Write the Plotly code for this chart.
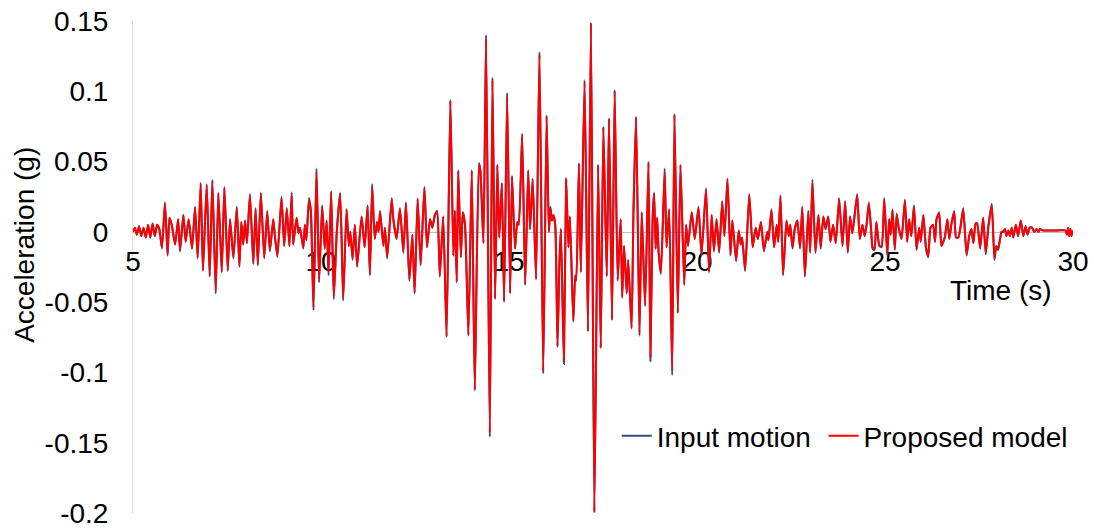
import plotly.graph_objects as go

time_s = [
    5.00, 5.05, 5.10, 5.16, 5.22, 5.28, 5.34, 5.40, 5.46, 5.52,
    5.58, 5.64, 5.70, 5.77, 5.85, 5.92, 5.97, 6.03, 6.12, 6.20,
    6.25, 6.34, 6.40, 6.48, 6.57, 6.65, 6.72, 6.80, 6.86, 6.96,
    7.04, 7.11, 7.20, 7.27, 7.36, 7.43, 7.52, 7.58, 7.67, 7.76,
    7.83, 7.88, 7.93, 7.98, 8.03, 8.11, 8.20, 8.26, 8.32, 8.40,
    8.49, 8.57, 8.64, 8.73, 8.77, 8.84, 8.95, 9.02, 9.09, 9.16,
    9.22, 9.26, 9.35, 9.40, 9.44, 9.53, 9.57, 9.61, 9.68, 9.73,
    9.80, 9.88, 9.95, 10.03, 10.10, 10.15, 10.20, 10.27, 10.34, 10.42,
    10.51, 10.59, 10.68, 10.74, 10.78, 10.84, 10.90, 10.96, 11.08, 11.16,
    11.24, 11.30, 11.36, 11.43, 11.49, 11.53, 11.57, 11.66, 11.70, 11.76,
    11.88, 11.92, 12.01, 12.10, 12.19, 12.26, 12.35, 12.43, 12.49, 12.57,
    12.65, 12.75, 12.82, 12.90, 12.96, 13.03, 13.09, 13.16, 13.25, 13.34,
    13.44, 13.52, 13.56, 13.61, 13.65, 13.72, 13.77, 13.83, 13.92, 14.01,
    14.09, 14.20, 14.24, 14.32, 14.39, 14.49, 14.56, 14.63, 14.69, 14.74,
    14.81, 14.87, 14.95, 15.03, 15.08, 15.16, 15.22, 15.26, 15.35, 15.43,
    15.51, 15.56, 15.63, 15.72, 15.81, 15.91, 16.00, 16.06, 16.10, 16.14,
    16.18, 16.23, 16.29, 16.34, 16.38, 16.46, 16.52, 16.58, 16.62, 16.71,
    16.76, 16.79, 16.86, 16.91, 17.01, 17.10, 17.18, 17.27, 17.37, 17.44,
    17.51, 17.60, 17.66, 17.74, 17.81, 17.89, 17.97, 18.01, 18.06, 18.13,
    18.17, 18.26, 18.31, 18.38, 18.47, 18.53, 18.62, 18.71, 18.76, 18.82,
    18.86, 18.90, 18.94, 18.98, 19.04, 19.14, 19.19, 19.26, 19.34, 19.40,
    19.49, 19.56, 19.66, 19.71, 19.76, 19.86, 19.94, 20.04, 20.12, 20.24,
    20.32, 20.39, 20.45, 20.52, 20.59, 20.67, 20.73, 20.81, 20.89, 20.94,
    21.04, 21.11, 21.16, 21.20, 21.28, 21.39, 21.48, 21.56, 21.62, 21.70,
    21.78, 21.87, 21.90, 21.98, 22.05, 22.12, 22.16, 22.22, 22.29, 22.38,
    22.44, 22.48, 22.54, 22.60, 22.67, 22.74, 22.80, 22.87, 22.96, 23.01,
    23.07, 23.15, 23.23, 23.29, 23.36, 23.42, 23.49, 23.55, 23.62, 23.69,
    23.78, 23.87, 23.94, 24.01, 24.07, 24.13, 24.18, 24.26, 24.33, 24.40,
    24.46, 24.51, 24.57, 24.63, 24.67, 24.72, 24.77, 24.85, 24.91, 24.98,
    25.06, 25.11, 25.15, 25.20, 25.26, 25.31, 25.37, 25.44, 25.53, 25.59,
    25.64, 25.70, 25.77, 25.84, 25.91, 25.95, 26.02, 26.09, 26.15, 26.21,
    26.28, 26.33, 26.37, 26.44, 26.50, 26.59, 26.66, 26.71, 26.77, 26.84,
    26.89, 26.95, 27.00, 27.08, 27.17, 27.24, 27.30, 27.35, 27.41, 27.45,
    27.53, 27.61, 27.68, 27.75, 27.84, 27.91, 27.96, 28.01, 28.06, 28.10,
    28.14, 28.19, 28.23, 28.28, 28.32, 28.37, 28.41, 28.48, 28.54, 28.61,
    28.68, 28.74, 28.79, 28.85, 28.91, 28.97, 29.03, 29.08, 29.12, 29.20,
    29.40, 29.60, 29.80, 29.84, 29.87, 29.90, 29.93, 29.96, 30.00,
]

input_motion = [
    0.000, 0.003, -0.002, 0.004, -0.003, 0.003, -0.004, 0.005, -0.004, 0.006,
    -0.003, 0.005, 0.002, -0.012, 0.021, -0.017, 0.010, 0.005, -0.009, 0.009,
    -0.014, 0.012, -0.007, 0.009, -0.012, 0.018, -0.019, 0.035, -0.028, 0.034,
    -0.032, 0.037, -0.044, 0.028, -0.029, 0.032, -0.028, 0.009, -0.019, 0.018,
    -0.025, 0.007, -0.009, 0.008, -0.008, 0.027, -0.023, 0.017, -0.024, 0.028,
    -0.019, 0.015, -0.014, 0.009, -0.002, -0.018, 0.025, -0.010, 0.017, -0.010,
    0.028, -0.009, 0.010, -0.001, 0.003, -0.012, 0.005, -0.006, 0.024, 0.015,
    -0.056, 0.045, -0.036, 0.019, -0.012, 0.008, -0.031, 0.029, -0.048, 0.000,
    0.028, -0.049, 0.016, -0.010, 0.000, -0.020, 0.005, -0.025, 0.011, -0.011,
    0.019, -0.031, 0.034, -0.005, 0.007, 0.000, 0.015, -0.010, 0.003, -0.019,
    0.024, 0.010, -0.005, 0.017, -0.015, 0.021, -0.035, -0.002, -0.044, 0.024,
    -0.024, 0.032, -0.011, 0.009, 0.003, 0.012, 0.015, -0.032, 0.011, -0.075,
    0.094, -0.017, 0.015, -0.036, 0.044, -0.018, 0.014, 0.005, -0.074, 0.044,
    -0.113, 0.049, 0.044, -0.008, 0.140, -0.146, 0.110, -0.048, 0.048, -0.004,
    0.035, -0.050, 0.099, -0.044, 0.040, -0.012, 0.007, 0.005, 0.070, -0.038,
    0.044, 0.002, 0.038, -0.034, 0.128, -0.101, 0.083, 0.000, 0.018, 0.008,
    0.012, 0.005, -0.082, -0.023, 0.002, -0.094, 0.038, -0.011, 0.011, -0.064,
    -0.031, -0.035, 0.049, -0.029, 0.108, -0.071, 0.149, -0.200, 0.048, -0.083,
    0.075, -0.032, 0.081, -0.063, 0.101, -0.035, 0.009, -0.047, -0.010, -0.044,
    -0.020, -0.069, 0.014, 0.082, -0.074, 0.014, -0.053, 0.050, -0.092, 0.010,
    0.028, -0.012, 0.010, -0.015, -0.030, 0.045, -0.011, 0.016, -0.102, 0.084,
    -0.058, 0.048, -0.038, 0.005, -0.010, 0.014, -0.005, 0.018, -0.017, 0.031,
    -0.029, 0.012, -0.014, 0.009, -0.015, 0.022, -0.003, 0.038, -0.017, 0.008,
    -0.021, 0.001, -0.009, -0.004, -0.028, 0.027, -0.011, 0.003, -0.005, 0.007,
    -0.014, 0.000, -0.006, 0.016, -0.011, 0.005, -0.007, 0.026, -0.031, 0.008,
    -0.003, 0.005, -0.012, 0.002, 0.008, -0.012, 0.018, -0.032, 0.015, -0.015,
    0.037, -0.015, 0.012, -0.012, 0.011, 0.002, 0.011, -0.007, 0.005, -0.008,
    0.024, -0.010, 0.022, -0.015, 0.011, -0.001, 0.009, 0.027, -0.005, 0.005,
    -0.003, 0.005, 0.021, 0.002, -0.012, -0.013, 0.007, -0.010, -0.011, 0.024,
    -0.017, 0.009, -0.002, 0.016, -0.013, 0.013, 0.002, -0.005, 0.023, -0.007,
    0.009, -0.003, 0.019, -0.013, 0.003, -0.007, 0.012, -0.012, -0.018, 0.003,
    0.005, -0.007, 0.009, 0.014, -0.010, -0.004, 0.009, -0.005, 0.006, 0.015,
    -0.004, -0.004, 0.002, 0.017, -0.017, -0.003, 0.002, -0.008, 0.006, 0.006,
    -0.012, 0.010, -0.016, 0.004, 0.020, -0.020, -0.010, -0.013, -0.005, 0.000,
    0.000, 0.002, -0.003, 0.001, -0.003, 0.003, -0.004, 0.005, -0.003, 0.008,
    -0.003, 0.004, -0.002, 0.003, 0.003, 0.000, 0.002, 0.000, 0.002, 0.001,
    0.001, 0.001, 0.001, -0.002, 0.003, -0.003, 0.002, -0.003, 0.001,
]

proposed_model = [
    0.000, 0.003, -0.002, 0.004, -0.003, 0.003, -0.004, 0.005, -0.004, 0.006,
    -0.003, 0.005, 0.002, -0.011, 0.020, -0.016, 0.010, 0.005, -0.009, 0.009,
    -0.013, 0.012, -0.007, 0.009, -0.012, 0.017, -0.018, 0.034, -0.027, 0.033,
    -0.031, 0.036, -0.042, 0.027, -0.028, 0.031, -0.027, 0.009, -0.018, 0.017,
    -0.024, 0.007, -0.009, 0.008, -0.008, 0.026, -0.022, 0.016, -0.023, 0.027,
    -0.018, 0.014, -0.013, 0.009, -0.002, -0.017, 0.024, -0.010, 0.016, -0.010,
    0.026, -0.009, 0.010, -0.001, 0.003, -0.011, 0.005, -0.006, 0.022, 0.015,
    -0.054, 0.043, -0.034, 0.018, -0.012, 0.008, -0.029, 0.028, -0.046, 0.000,
    0.027, -0.047, 0.016, -0.010, 0.000, -0.019, 0.005, -0.024, 0.011, -0.011,
    0.018, -0.030, 0.032, -0.005, 0.007, 0.000, 0.014, -0.010, 0.003, -0.018,
    0.023, 0.010, -0.005, 0.016, -0.014, 0.020, -0.034, -0.002, -0.043, 0.023,
    -0.023, 0.031, -0.011, 0.009, 0.003, 0.012, 0.014, -0.031, 0.011, -0.074,
    0.093, -0.017, 0.015, -0.035, 0.043, -0.018, 0.014, 0.005, -0.073, 0.043,
    -0.112, 0.048, 0.043, -0.008, 0.137, -0.143, 0.108, -0.047, 0.047, -0.004,
    0.034, -0.049, 0.096, -0.043, 0.039, -0.012, 0.007, 0.005, 0.068, -0.037,
    0.043, 0.002, 0.037, -0.033, 0.126, -0.099, 0.082, 0.000, 0.017, 0.008,
    0.012, 0.005, -0.081, -0.023, 0.002, -0.092, 0.037, -0.011, 0.011, -0.063,
    -0.031, -0.034, 0.048, -0.028, 0.106, -0.070, 0.148, -0.199, 0.047, -0.082,
    0.074, -0.031, 0.080, -0.062, 0.100, -0.034, 0.009, -0.046, -0.010, -0.043,
    -0.020, -0.068, 0.014, 0.081, -0.072, 0.014, -0.052, 0.049, -0.089, 0.010,
    0.027, -0.012, 0.010, -0.014, -0.029, 0.043, -0.011, 0.016, -0.099, 0.083,
    -0.057, 0.047, -0.037, 0.005, -0.010, 0.014, -0.005, 0.017, -0.016, 0.030,
    -0.028, 0.012, -0.013, 0.009, -0.014, 0.021, -0.003, 0.037, -0.016, 0.008,
    -0.020, 0.001, -0.009, -0.004, -0.027, 0.026, -0.011, 0.003, -0.005, 0.007,
    -0.013, 0.000, -0.006, 0.015, -0.011, 0.005, -0.007, 0.025, -0.030, 0.008,
    -0.003, 0.005, -0.011, 0.002, 0.008, -0.011, 0.017, -0.031, 0.014, -0.014,
    0.035, -0.014, 0.012, -0.011, 0.011, 0.002, 0.011, -0.007, 0.005, -0.008,
    0.023, -0.010, 0.021, -0.014, 0.011, -0.001, 0.009, 0.026, -0.005, 0.005,
    -0.003, 0.005, 0.020, 0.002, -0.011, -0.012, 0.007, -0.010, -0.010, 0.023,
    -0.016, 0.009, -0.002, 0.015, -0.012, 0.012, 0.002, -0.005, 0.022, -0.007,
    0.009, -0.003, 0.018, -0.012, 0.003, -0.007, 0.012, -0.011, -0.017, 0.003,
    0.005, -0.007, 0.009, 0.013, -0.010, -0.004, 0.009, -0.005, 0.006, 0.014,
    -0.004, -0.004, 0.002, 0.016, -0.016, -0.003, 0.002, -0.008, 0.006, 0.006,
    -0.011, 0.010, -0.015, 0.004, 0.019, -0.019, -0.010, -0.012, -0.005, 0.000,
    0.000, 0.002, -0.003, 0.001, -0.003, 0.003, -0.004, 0.005, -0.003, 0.008,
    -0.003, 0.004, -0.002, 0.003, 0.003, 0.000, 0.002, 0.000, 0.002, 0.001,
    0.001, 0.001, 0.001, -0.002, 0.003, -0.003, 0.002, -0.003, 0.001,
]

x_ticks = [5, 10, 15, 20, 25, 30]
y_ticks = [0.15, 0.1, 0.05, 0, -0.05, -0.1, -0.15, -0.2]
y_tick_text = ["0.15", "0.1", "0.05", "0", "-0.05", "-0.1", "-0.15", "-0.2"]

FONT = "Liberation Sans, Arial, sans-serif"
FS = 28

fig = go.Figure()
fig.add_trace(go.Scatter(
    x=time_s, y=input_motion, name="Input motion\u00a0", mode="lines",
    line=dict(color="#2F4E8C", width=2, shape="spline", smoothing=0.5),
))
fig.add_trace(go.Scatter(
    x=time_s, y=proposed_model, name="Proposed model", mode="lines",
    line=dict(color="#FF0000", width=2, shape="spline", smoothing=0.5),
))

fig.update_layout(
    width=1094, height=528,
    margin=dict(l=133, r=21, t=21, b=15, autoexpand=False),
    paper_bgcolor="white", plot_bgcolor="white",
    font=dict(family=FONT, size=FS, color="#000000"),
    showlegend=True,
    legend=dict(
        orientation="h", x=0.5146, y=0.1565, xanchor="left", yanchor="middle",
        bgcolor="rgba(0,0,0,0)", font=dict(size=FS), itemwidth=30,
        tracegroupgap=0,
    ),
    xaxis=dict(
        range=[5, 30], tickvals=x_ticks, ticktext=[str(v) for v in x_ticks],
        anchor="free", position=0.2 / 0.35, automargin=False,
        showline=True, linecolor="#BFBFBF", linewidth=1,
        showgrid=False, zeroline=False, ticks="",
        ticklabelstandoff=5, ticklabeloverflow="allow", layer="below traces",
    ),
    yaxis=dict(
        range=[-0.2, 0.15], tickvals=y_ticks, ticktext=y_tick_text,
        automargin=False,
        showline=True, linecolor="#D9D9D9", linewidth=1,
        showgrid=False, zeroline=False, ticks="",
        ticklabelstandoff=18, ticklabeloverflow="allow", layer="below traces",
    ),
    annotations=[
        dict(text="Time (s)", xref="paper", yref="paper", x=1, y=0.453,
             xanchor="right", yanchor="middle", xshift=-19, showarrow=False,
             font=dict(size=FS)),
        dict(text="Acceleration (g)", xref="paper", yref="paper", x=0, y=0.545,
             xanchor="center", yanchor="middle", xshift=-108, textangle=-90,
             showarrow=False, font=dict(size=FS)),
    ],
)

fig.write_html(
    "out.html",
    config={"displayModeBar": False},
    post_script="document.body.style.margin='0';document.body.style.overflow='hidden';",
)
